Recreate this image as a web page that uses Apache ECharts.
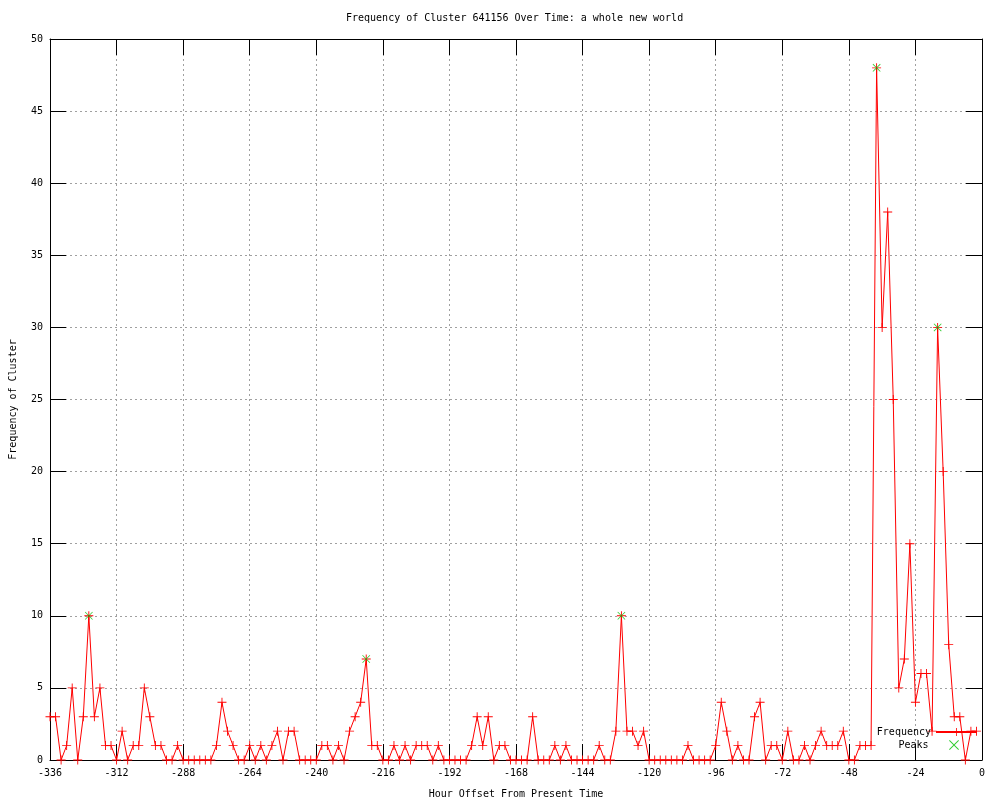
<!DOCTYPE html>
<html>
<head>
<meta charset="utf-8">
<script src="https://cdn.jsdelivr.net/npm/echarts@6/dist/echarts.min.js"></script>
<style>
  html, body { margin: 0; padding: 0; background: #fff; }
  #chart { width: 1000px; height: 800px; }
</style>
</head>
<body>
<div id="chart"></div>
<script>
// ---- data ----
const hours = [
  -336,-334,-332,-330,-328,-326,-324,-322,-320,-318,-316,-314,-312,-310,-308,-306,-304,-302,-300,-298,
  -296,-294,-292,-290,-288,-286,-284,-282,-280,-278,-276,-274,-272,-270,-268,-266,-264,-262,-260,-258,
  -256,-254,-252,-250,-248,-246,-244,-242,-240,-238,-236,-234,-232,-230,-228,-226,-224,-222,-220,-218,
  -216,-214,-212,-210,-208,-206,-204,-202,-200,-198,-196,-194,-192,-190,-188,-186,-184,-182,-180,-178,
  -176,-174,-172,-170,-168,-166,-164,-162,-160,-158,-156,-154,-152,-150,-148,-146,-144,-142,-140,-138,
  -136,-134,-132,-130,-128,-126,-124,-122,-120,-118,-116,-114,-112,-110,-108,-106,-104,-102,-100,-98,
  -96,-94,-92,-90,-88,-86,-84,-82,-80,-78,-76,-74,-72,-70,-68,-66,-64,-62,-60,-58,
  -56,-54,-52,-50,-48,-46,-44,-42,-40,-38,-36,-34,-32,-30,-28,-26,-24,-22,-20,-18,
  -16,-14,-12,-10,-8,-6,-4,-2
];
const frequency = [
  3,3,0,1,5,0,3,10,3,5,1,1,0,2,0,1,1,5,3,1,
  1,0,0,1,0,0,0,0,0,0,1,4,2,1,0,0,1,0,1,0,
  1,2,0,2,2,0,0,0,0,1,1,0,1,0,2,3,4,7,1,1,
  0,0,1,0,1,0,1,1,1,0,1,0,0,0,0,0,1,3,1,3,
  0,1,1,0,0,0,0,3,0,0,0,1,0,1,0,0,0,0,0,1,
  0,0,2,10,2,2,1,2,0,0,0,0,0,0,0,1,0,0,0,0,
  1,4,2,0,1,0,0,3,4,0,1,1,0,2,0,0,1,0,1,2,
  1,1,1,2,0,0,1,1,1,48,30,38,25,5,7,15,4,6,6,2,
  30,20,8,3,3,0,2,2
];
const peakHours = [-322, -222, -130, -38, -16];
const peakValues = [10, 7, 10, 48, 30];
const xTicks = { min: -336, max: 0, step: 24 };
const yTicks = { min: 0, max: 50, step: 5 };

const titleText = 'Frequency of Cluster 641156 Over Time: a whole new world';
const xName = 'Hour Offset From Present Time';
const yName = 'Frequency of Cluster';

// ---- chart ----
const FONT = '"DejaVu Sans Mono", "Liberation Mono", monospace';
const PLUS = 'path://M4.5,0H5.5V4.5H10V5.5H5.5V10H4.5V5.5H0V4.5H4.5Z';
const CROSS = 'path://M0,0.7L0.7,0L5,4.3L9.3,0L10,0.7L5.7,5L10,9.3L9.3,10L5,5.7L0.7,10L0,9.3L4.3,5Z';

const freqData = hours.map((h, i) => [h, frequency[i]]);
const peakData = peakHours.map((h, i) => [h, peakValues[i]]);

const gridLine = { show: true, lineStyle: { color: '#a0a0a0', type: [2, 3], width: 1 } };
const blackLine = { show: true, onZero: false, lineStyle: { color: '#000', width: 1 } };
const tickIn = { show: true, inside: true, length: 16, lineStyle: { color: '#000', width: 1 } };
const legendText = { fontFamily: FONT, fontSize: 10, color: '#000' };

const chart = echarts.init(document.getElementById('chart'), null, { renderer: 'canvas' });
chart.setOption({
  animation: false,
  backgroundColor: '#fff',
  title: {
    text: titleText,
    left: 346, top: 13, padding: 0,
    textStyle: { fontFamily: FONT, fontSize: 10, fontWeight: 'normal', color: '#000' }
  },
  grid: { left: 50, right: 18, top: 39, bottom: 40, show: false, containLabel: false, outerBoundsMode: 'none' },
  legend: [
    {
      data: ['Frequency'], right: 22, top: 727, orient: 'vertical', align: 'right',
      padding: 0, itemWidth: 41, itemHeight: 10, textStyle: legendText
    },
    {
      data: ['Peaks'], right: 41, top: 740, orient: 'vertical', align: 'right',
      padding: 0, itemWidth: 41, itemHeight: 10, textStyle: legendText
    }
  ],
  xAxis: [
    {
      type: 'value', position: 'bottom',
      min: xTicks.min, max: xTicks.max, interval: xTicks.step,
      axisLine: blackLine, axisTick: tickIn, splitLine: gridLine,
      axisLabel: { fontFamily: FONT, fontSize: 10, color: '#000', margin: 8, showMinLabel: true, showMaxLabel: true },
      name: xName, nameLocation: 'middle', nameGap: 29,
      nameTextStyle: { fontFamily: FONT, fontSize: 10, color: '#000' }
    },
    {
      type: 'value', position: 'top',
      min: xTicks.min, max: xTicks.max, interval: xTicks.step,
      axisLine: blackLine, axisTick: tickIn, splitLine: { show: false },
      axisLabel: { show: false }
    }
  ],
  yAxis: [
    {
      type: 'value', position: 'left',
      min: yTicks.min, max: yTicks.max, interval: yTicks.step,
      axisLine: blackLine, axisTick: tickIn, splitLine: gridLine,
      axisLabel: { fontFamily: FONT, fontSize: 10, color: '#000', margin: 7 },
      name: yName, nameLocation: 'middle', nameGap: 32, nameRotate: 90,
      nameTextStyle: { fontFamily: FONT, fontSize: 10, color: '#000' }
    },
    {
      type: 'value', position: 'right',
      min: yTicks.min, max: yTicks.max, interval: yTicks.step,
      axisLine: blackLine, axisTick: tickIn, splitLine: { show: false },
      axisLabel: { show: false }
    }
  ],
  series: [
    {
      name: 'Frequency', type: 'line', data: freqData,
      xAxisIndex: 0, yAxisIndex: 0,
      showAllSymbol: true, symbol: PLUS, symbolSize: 9,
      clip: false,
      lineStyle: { color: '#ff0000', width: 1 },
      itemStyle: { color: '#ff0000' },
      emphasis: { disabled: true },
      z: 3
    },
    {
      name: 'Peaks', type: 'scatter', data: peakData,
      xAxisIndex: 0, yAxisIndex: 0,
      symbol: CROSS, symbolSize: 8,
      itemStyle: { color: '#00c000' },
      emphasis: { disabled: true },
      z: 4
    }
  ]
});
</script>
</body>
</html>
